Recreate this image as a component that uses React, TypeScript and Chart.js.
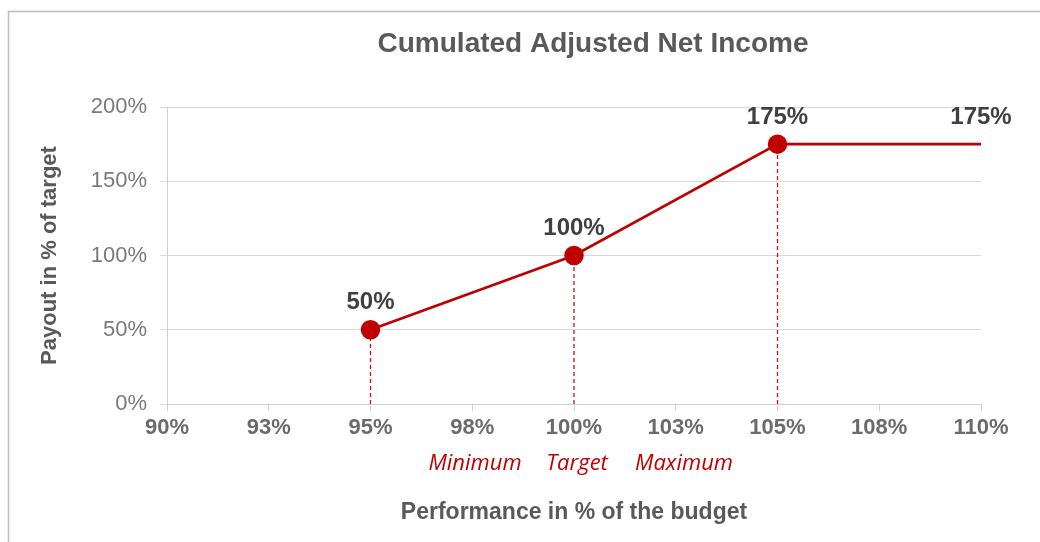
import React, { useEffect, useRef } from "react";
import { Chart, registerables } from "chart.js";

Chart.register(...registerables);

// ---- data ----
const chartTitle = "Cumulated Adjusted Net Income";
const xAxisTitle = "Performance in % of the budget";
const yAxisTitle = "Payout in % of target";
const performance = [95, 100, 105, 110];
const payout = [50, 100, 175, 175];
const pointLabels = ["50%", "100%", "175%", "175%"];
const markerShown = [true, true, true, false];
const xTickLabels = ["90%", "93%", "95%", "98%", "100%", "103%", "105%", "108%", "110%"];
const yTickLabels = ["0%", "50%", "100%", "150%", "200%"];
const levelLabels = ["Minimum", "Target", "Maximum"];

const RED = "#c00000";
const FONT = "'Liberation Sans', Arial, sans-serif";

export default function App() {
  const ref = useRef<HTMLCanvasElement | null>(null);

  useEffect(() => {
    if (!ref.current) return;

    const dropDatasets = performance
      .map((x, i) => ({ x, y: payout[i], show: markerShown[i] }))
      .filter((p) => p.show)
      .map((p) => ({
        data: [
          { x: p.x, y: 0 },
          { x: p.x, y: p.y },
        ],
        borderColor: "#d01010",
        borderWidth: 1.3,
        borderDash: [4, 3],
        pointRadius: 0,
        order: 2,
        fill: false,
      }));

    const decorPlugin = {
      id: "decor",
      beforeDraw(chart: any) {
        const ctx = chart.ctx;
        ctx.save();
        ctx.strokeStyle = "#bdbdbd";
        ctx.lineWidth = 1.5;
        ctx.beginPath();
        ctx.moveTo(8.5, 542);
        ctx.lineTo(8.5, 11.5);
        ctx.lineTo(1040, 11.5);
        ctx.stroke();
        ctx.restore();
      },
      afterDatasetsDraw(chart: any) {
        const ctx = chart.ctx;
        ctx.save();
        // title
        ctx.fillStyle = "#595959";
        ctx.font = `bold 28px ${FONT}`;
        ctx.textAlign = "center";
        ctx.textBaseline = "middle";
        ctx.fillText(chartTitle, 593, 44);
        // point labels
        const meta = chart.getDatasetMeta(0);
        ctx.fillStyle = "#404040";
        ctx.font = `bold 24px ${FONT}`;
        meta.data.forEach((pt: any, i: number) => {
          ctx.fillText(pointLabels[i], pt.x, pt.y - 27);
        });
        // level labels
        ctx.fillStyle = RED;
        ctx.font = `italic 22px 'Open Sans', sans-serif`;
        const centers = [475, 577, 684];
        levelLabels.forEach((t, i) => {
          ctx.fillText(t, centers[i], 464);
        });
        ctx.restore();
      },
    };

    const chart = new Chart(ref.current, {
      type: "line",
      data: {
        datasets: [
          {
            data: performance.map((x, i) => ({ x, y: payout[i] })),
            borderColor: RED,
            backgroundColor: RED,
            borderWidth: 2.6,
            pointRadius: markerShown.map((s) => (s ? 9 : 0)),
            pointBorderWidth: 1.5,
            pointBorderColor: RED,
            pointBackgroundColor: RED,
            order: 0,
            fill: false,
          },
          ...dropDatasets,
        ],
      },
      options: {
        responsive: false,
        animation: false,
        layout: { padding: { top: 107, right: 59, bottom: 0, left: 0 } },
        plugins: {
          legend: { display: false },
          tooltip: { enabled: false },
          title: { display: false },
        },
        scales: {
          x: {
            type: "linear",
            min: 90,
            max: 110,
            afterFit: (s: any) => {
              s.height = 138;
            },
            ticks: {
              stepSize: 2.5,
              autoSkip: false,
              maxRotation: 0,
              padding: 4,
              color: "#6b6b6b",
              font: { family: FONT, size: 22, weight: "bold" },
              callback: (_v: any, i: number) => xTickLabels[i],
            },
            grid: {
              drawOnChartArea: false,
              drawTicks: true,
              tickLength: 7,
              color: "#d0d0d0",
            },
            border: { display: true, color: "#d0d0d0", width: 1 },
            title: {
              display: true,
              text: xAxisTitle,
              color: "#595959",
              font: { family: FONT, size: 23, weight: "bold" },
              padding: { top: 0, bottom: 16 },
            },
          },
          y: {
            min: 0,
            max: 200,
            afterFit: (s: any) => {
              s.width = 167;
            },
            ticks: {
              stepSize: 50,
              padding: 13,
              color: "#7a7a7a",
              font: { family: FONT, size: 22 },
              callback: (_v: any, i: number) => yTickLabels[i],
            },
            grid: {
              drawTicks: true,
              tickLength: 7,
              color: "#d9d9d9",
            },
            border: { display: true, color: "#d0d0d0", width: 1 },
            title: {
              display: true,
              text: yAxisTitle,
              color: "#595959",
              font: { family: FONT, size: 22, weight: "bold" },
              padding: { top: 37, bottom: 0 },
            },
          },
        },
      },
      plugins: [decorPlugin],
    } as any);

    return () => chart.destroy();
  }, []);

  return (
    <div style={{ position: "absolute", left: 0, top: 0, width: 1040, height: 542, background: "#fff" }}>
      <canvas ref={ref} width={1040} height={542} style={{ display: "block" }} />
    </div>
  );
}
